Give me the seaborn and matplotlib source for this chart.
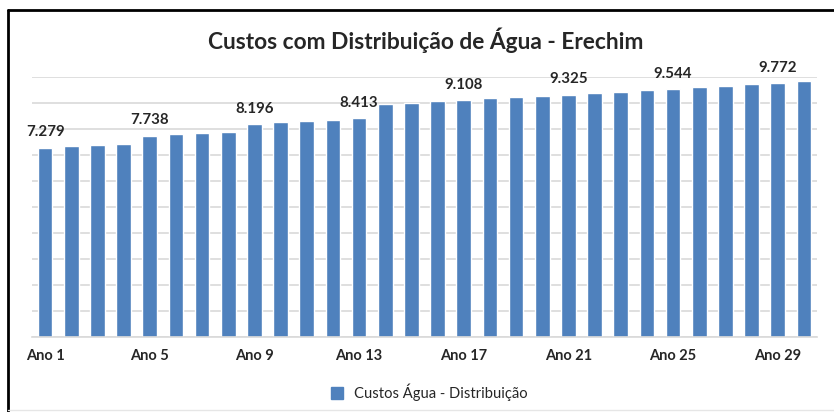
import pandas as pd
import matplotlib.pyplot as plt
import seaborn as sns
from matplotlib.lines import Line2D

anos = ['Ano ' + str(i) for i in range(1, 31)]
custos = [7279, 7333, 7386, 7420, 7738, 7796, 7853, 7880,
          8196, 8256, 8315, 8356, 8413, 8950, 9010, 9070,
          9108, 9175, 9235, 9265, 9325, 9370, 9430, 9495,
          9544, 9605, 9665, 9720, 9772, 9835]
anos_rotulados = [1, 5, 9, 13, 17, 21, 25, 29]

df = pd.DataFrame({'Ano': anos, 'Custo': custos})

sns.set_style("white")
plt.rcParams['font.family'] = ['Lato', 'DejaVu Sans']

fig = plt.figure(figsize=(8.34, 4.12), dpi=100)
ax = fig.add_axes([32 / 834, 75 / 412, 785 / 834, 260 / 412])

sns.barplot(x='Ano', y='Custo', data=df, color='#4F81BD', width=0.56,
            saturation=1, ax=ax)

ax.set_ylim(0, 10000)
ax.set_xlim(-0.5, 29.5)
ax.set_yticks(range(0, 10001, 1000))
ax.set_yticklabels([])
ax.tick_params(axis='y', length=0)
ax.yaxis.grid(True, color='#D9D9D9', linewidth=1.2)
ax.set_axisbelow(True)
for lado in ['top', 'right', 'left']:
    ax.spines[lado].set_visible(False)
ax.spines['bottom'].set_color('#D9D9D9')
ax.spines['bottom'].set_linewidth(1.2)

ax.set_xticks([i - 1 for i in anos_rotulados])
ax.set_xticklabels(['Ano ' + str(i) for i in anos_rotulados],
                   fontsize=10.5, fontweight='bold')
ax.tick_params(axis='x', length=0, pad=9)
ax.set_xlabel('')
ax.set_ylabel('')

# rotulos so de 4 em 4 anos
rotulos = []
for i, v in enumerate(custos):
    if i + 1 in anos_rotulados:
        rotulos.append(f'{v:,}'.replace(',', '.'))
    else:
        rotulos.append('')
ax.bar_label(ax.containers[0], labels=rotulos, padding=6,
             fontsize=10.8, fontweight='bold')

fig.text(426 / 834, 1 - 40 / 412, 'Custos com Distribuição de Água - Erechim',
         ha='center', va='center', fontsize=16.4, fontweight='bold')

marcador = Line2D([], [], marker='s', color='#4F81BD', linestyle='none',
                  markersize=8)
fig.legend([marcador], ['Custos Água - Distribuição'], loc='center',
           bbox_to_anchor=(425 / 834, 1 - 392 / 412), frameon=False,
           fontsize=10.6, handletextpad=0.1)

# moldura
fig.add_artist(Line2D([8 / 834, 1], [1 - 10 / 412, 1 - 10 / 412],
                      color='black', linewidth=2))
fig.add_artist(Line2D([8 / 834, 8 / 834], [0, 1 - 10 / 412],
                      color='black', linewidth=2))
fig.add_artist(Line2D([8 / 834, 1], [2 / 412, 2 / 412],
                      color='#E6E6E6', linewidth=1))

plt.savefig('out.png', dpi=100)
